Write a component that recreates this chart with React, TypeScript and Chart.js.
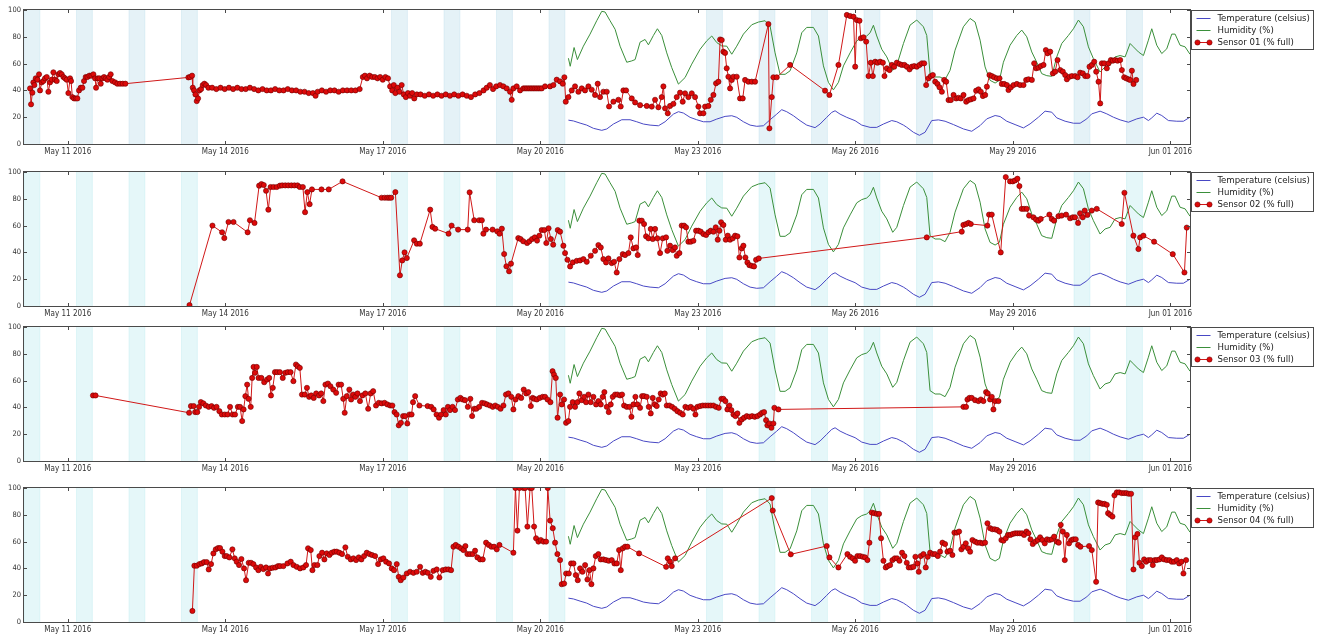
import React, { useEffect, useRef } from 'react';
import { Chart, registerables } from 'chart.js';

Chart.register(...registerables);

const FONT = "'DejaVu Sans Condensed', 'Liberation Sans', Arial, sans-serif";

// x axis: days since May 10 2016 00:00
const X_MIN = 4 / 24;
const X_MAX = 22.375;
const TICK_DAYS = [1, 4, 7, 10, 13, 16, 19, 22];
const TICK_LABELS = ['May 11 2016', 'May 14 2016', 'May 17 2016', 'May 20 2016', 'May 23 2016', 'May 26 2016', 'May 29 2016', 'Jun 01 2016'];
const Y_TICKS = [0, 20, 40, 60, 80, 100];

// working-hours bands (days with a band, start/end hour fraction)
const BAND_DAYS = [0, 1, 2, 3, 7, 8, 9, 10, 13, 14, 15, 16, 17, 20, 21];
const BAND_START = 4 / 24;
const BAND_END = 11.25 / 24;

const TEMP_LABEL = 'Temperature (celsius)';
const HUM_LABEL = 'Humidity (%)';
const SENSOR_LABELS = ['Sensor 01 (% full)', 'Sensor 02 (% full)', 'Sensor 03 (% full)', 'Sensor 04 (% full)'];

const TEMP: [number, number][] = [
  [10.536, 17.8], [10.631, 17.2], [10.758, 15.6], [10.885, 14.1], [11.012, 11.7], [11.171, 10.2], [11.266, 11.2], [11.393, 14.9],
  [11.552, 18.1], [11.71, 18.1], [11.837, 16.6], [11.964, 14.9], [12.091, 14.1], [12.25, 13.6], [12.377, 16.6], [12.536, 22.3],
  [12.631, 24.1], [12.726, 23.1], [12.853, 19.9], [12.98, 18.1], [13.107, 16.6], [13.234, 16.6], [13.361, 18.6], [13.52, 20.6],
  [13.647, 21.1], [13.742, 19.9], [13.869, 16.6], [13.996, 14.1], [14.123, 13.2], [14.25, 13.6], [14.377, 18.1], [14.504, 22.3],
  [14.599, 25.6], [14.694, 24.1], [14.821, 21.1], [14.948, 17.4], [15.075, 14.1], [15.234, 12.2], [15.329, 14.9], [15.456, 19.9],
  [15.552, 23.6], [15.615, 24.8], [15.71, 22.3], [15.837, 19.9], [15.996, 17.4], [16.123, 14.1], [16.282, 12.4], [16.409, 12.4],
  [16.536, 14.9], [16.694, 17.5], [16.79, 16.6], [16.917, 14.1], [16.98, 12.5], [17.107, 8.75], [17.221, 6.5], [17.329, 8.75],
  [17.456, 17.5], [17.583, 18], [17.71, 17], [17.869, 14.5], [18.059, 11.25], [18.218, 9.5], [18.377, 13.75], [18.504, 18.75],
  [18.663, 21.25], [18.758, 20.5], [18.885, 17], [19.043, 14.5], [19.202, 12], [19.329, 15], [19.488, 20], [19.615, 24.5],
  [19.742, 23.75], [19.837, 19.5], [19.996, 17], [20.155, 15.5], [20.282, 15.5], [20.409, 18.75], [20.504, 22.5], [20.663, 24.5],
  [20.79, 22.5], [20.916, 20], [21.044, 18], [21.202, 16.25], [21.361, 18.75], [21.488, 20], [21.583, 17.5], [21.647, 19.5],
  [21.742, 23], [21.837, 21.25], [21.964, 17.5], [22.123, 17], [22.25, 17], [22.375, 20],
];

const HUM: [number, number][] = [
  [10.536, 64], [10.57, 58], [10.644, 72], [10.707, 63], [10.821, 73], [10.948, 82], [11.075, 92], [11.171, 99], [11.234, 98.5],
  [11.329, 92], [11.425, 85.6], [11.52, 73], [11.647, 61], [11.742, 62], [11.806, 63], [11.901, 76], [11.996, 78], [12.06, 74],
  [12.155, 81], [12.231, 86], [12.314, 81], [12.409, 68], [12.504, 57], [12.631, 44.7], [12.758, 49.6], [12.885, 59.6],
  [13.044, 70.7], [13.171, 77], [13.266, 80.6], [13.361, 75.7], [13.456, 73.2], [13.552, 73], [13.647, 67], [13.742, 73],
  [13.869, 82], [14.028, 89], [14.155, 91], [14.282, 92], [14.377, 88], [14.472, 68], [14.567, 52], [14.663, 52], [14.758, 54.6],
  [14.885, 68], [14.98, 83], [15.075, 87], [15.202, 87], [15.298, 80.6], [15.393, 58.3], [15.488, 46], [15.583, 40.4],
  [15.679, 46], [15.774, 58.3], [15.901, 68], [16.028, 77], [16.123, 79.4], [16.218, 80.6], [16.282, 83], [16.345, 88.6],
  [16.409, 80.6], [16.504, 70.7], [16.6, 65], [16.713, 55], [16.79, 58.7], [16.917, 75], [17.043, 88.7], [17.17, 92.5],
  [17.297, 87.5], [17.361, 81], [17.424, 52.5], [17.52, 50], [17.615, 50], [17.71, 48], [17.805, 55], [17.9, 70], [18.059, 87.5],
  [18.186, 93.7], [18.282, 91], [18.377, 77.5], [18.472, 57.5], [18.567, 47.5], [18.663, 45.5], [18.745, 47.5], [18.821, 61],
  [18.948, 73.7], [19.075, 81], [19.17, 85], [19.266, 80], [19.361, 68.7], [19.456, 61], [19.551, 52.5], [19.647, 51],
  [19.742, 50.5], [19.837, 65], [19.932, 75], [20.059, 81], [20.155, 86], [20.25, 92.5], [20.345, 87.5], [20.44, 72.5],
  [20.535, 63.7], [20.662, 53.7], [20.758, 57.5], [20.853, 58.7], [20.948, 65], [21.044, 66], [21.139, 65], [21.234, 75],
  [21.297, 72.5], [21.393, 68.7], [21.488, 66], [21.583, 77.5], [21.647, 86], [21.742, 73.7], [21.837, 67.5], [21.932, 71],
  [22.028, 82], [22.091, 82], [22.186, 73.7], [22.282, 72.5], [22.375, 67],
];

const S1: [number, number][] = [
  [0.282, 41.5], [0.301, 29.6], [0.326, 38.3], [0.345, 46], [0.364, 44], [0.39, 49], [0.422, 48], [0.453, 52], [0.472, 40],
  [0.504, 46], [0.536, 47], [0.567, 49], [0.6, 50], [0.631, 39], [0.663, 46], [0.695, 48], [0.726, 53.5], [0.758, 48], [0.79, 47],
  [0.822, 52], [0.853, 53], [0.885, 52], [0.917, 50], [0.949, 49], [0.98, 48], [1.012, 38], [1.044, 49], [1.063, 47], [1.088, 35],
  [1.12, 34], [1.152, 34], [1.183, 34], [1.215, 40], [1.247, 42], [1.279, 42], [1.31, 47], [1.342, 50], [1.374, 50], [1.412, 51],
  [1.45, 51], [1.488, 52], [1.52, 49], [1.539, 42], [1.571, 49], [1.603, 49], [1.628, 45], [1.66, 49], [1.691, 50], [1.723, 49],
  [1.755, 48], [1.787, 50], [1.818, 52], [1.85, 47], [1.9, 46], [1.945, 45], [1.996, 45], [2.047, 45], [2.098, 45],
  [3.298, 49.7], [3.33, 50], [3.368, 51], [3.381, 42], [3.406, 40], [3.432, 37], [3.457, 32], [3.482, 34], [3.508, 40], [3.54, 41],
  [3.571, 44], [3.603, 45], [3.635, 44], [3.679, 42], [3.75, 42], [3.83, 41], [3.91, 42], [3.99, 41], [4.07, 42], [4.15, 41],
  [4.23, 42], [4.31, 41], [4.39, 41], [4.47, 42], [4.55, 41], [4.63, 40], [4.71, 41], [4.79, 40], [4.87, 40], [4.95, 41],
  [5.03, 40], [5.11, 40], [5.19, 41], [5.27, 40], [5.35, 40], [5.43, 39], [5.51, 39], [5.59, 38], [5.67, 38], [5.72, 36],
  [5.76, 39], [5.84, 40], [5.92, 39], [6.0, 40], [6.08, 40], [6.16, 39], [6.24, 40], [6.32, 40], [6.4, 40], [6.48, 40], [6.56, 41],
  [6.62, 50], [6.66, 51], [6.7, 49], [6.75, 51], [6.8, 50], [6.85, 50], [6.9, 49], [6.95, 50], [7.0, 48], [7.05, 50], [7.1, 49],
  [7.14, 43], [7.18, 40], [7.21, 44], [7.24, 38], [7.28, 42], [7.32, 39], [7.36, 44], [7.4, 37], [7.44, 35], [7.48, 38],
  [7.52, 36], [7.56, 38], [7.6, 34], [7.65, 37], [7.72, 37], [7.8, 36], [7.88, 37], [7.96, 36], [8.04, 37], [8.12, 36],
  [8.2, 37], [8.28, 36], [8.36, 37], [8.44, 36], [8.52, 37], [8.6, 36], [8.68, 35], [8.76, 37], [8.84, 38], [8.92, 40],
  [8.98, 42], [9.04, 44], [9.1, 41], [9.16, 43], [9.234, 44], [9.297, 43], [9.361, 41.5], [9.424, 39], [9.456, 33], [9.488, 41.5],
  [9.551, 43], [9.615, 40], [9.678, 41.5], [9.71, 41.5], [9.742, 41.5], [9.774, 41.5], [9.806, 41.5], [9.837, 41.5], [9.869, 41.5],
  [9.9, 41.5], [9.932, 41.5], [9.964, 41.5], [9.996, 41.5], [10.028, 41.5], [10.091, 43], [10.186, 43], [10.25, 44], [10.313, 48],
  [10.377, 46.7], [10.428, 45], [10.459, 49.8], [10.485, 31.6], [10.536, 35], [10.599, 40], [10.662, 43], [10.726, 39],
  [10.79, 41.5], [10.853, 40], [10.917, 43], [10.98, 40.5], [11.043, 36.6], [11.094, 45], [11.139, 35], [11.202, 39],
  [11.266, 39], [11.31, 28], [11.393, 31.6], [11.488, 33], [11.532, 28], [11.583, 40], [11.634, 40], [11.742, 34], [11.806, 31],
  [11.901, 29], [12.028, 28.4], [12.123, 27.9], [12.186, 33], [12.25, 27.4], [12.313, 35], [12.345, 43], [12.377, 26.6],
  [12.428, 22.9], [12.472, 28.4], [12.536, 30], [12.599, 35], [12.662, 38.3], [12.713, 31.6], [12.758, 37.8], [12.821, 35],
  [12.885, 37.8], [12.948, 35], [13.012, 27.9], [13.043, 22.9], [13.107, 22.9], [13.139, 27.9], [13.202, 28.4], [13.247, 33],
  [13.298, 36.6], [13.348, 45.3], [13.393, 46.5], [13.425, 78], [13.456, 77.6], [13.488, 68.9], [13.52, 68], [13.551, 56.5],
  [13.583, 50.2], [13.615, 41.5], [13.647, 47.8], [13.678, 50.2], [13.742, 50.2], [13.805, 34], [13.856, 34], [13.901, 47.8],
  [13.964, 46.5], [14.028, 46.5], [14.091, 46.5], [14.345, 89.5], [14.364, 11.7], [14.409, 35], [14.44, 49.8], [14.504, 49.8],
  [14.758, 59], [15.424, 39.8], [15.507, 36.6], [15.679, 59], [15.839, 96.3], [15.902, 95.5], [15.966, 95], [15.998, 57.7],
  [16.029, 92.5], [16.08, 92], [16.106, 78.9], [16.156, 79.6], [16.207, 76.4], [16.252, 50.7], [16.296, 60.7], [16.334, 50.7],
  [16.379, 61.4], [16.423, 60.7], [16.474, 61.4], [16.525, 60.7], [16.556, 50.7], [16.601, 56.5], [16.652, 55.2], [16.696, 59],
  [16.741, 57.7], [16.791, 60.7], [16.842, 59.7], [16.887, 59], [16.937, 59], [16.982, 57.7], [17.033, 55.7], [17.077, 57.7],
  [17.122, 58.2], [17.172, 57.7], [17.223, 59], [17.268, 60.2], [17.312, 60.2], [17.35, 44], [17.395, 49], [17.439, 50.7],
  [17.477, 51.5], [17.522, 46.5], [17.566, 44.8], [17.604, 42.3], [17.649, 39], [17.693, 47.8], [17.731, 46.5], [17.776, 32.8],
  [17.82, 32.8], [17.871, 36.6], [17.922, 34], [17.966, 34.5], [18.01, 34], [18.061, 36.6], [18.112, 31.6], [18.156, 32.8],
  [18.201, 33.3], [18.252, 34], [18.302, 39.8], [18.347, 40.8], [18.391, 39], [18.43, 35.8], [18.474, 36.6], [18.506, 42.8],
  [18.556, 51.5], [18.601, 50.7], [18.645, 49.8], [18.696, 49], [18.747, 49], [18.791, 44.8], [18.836, 44.8], [18.887, 44],
  [18.918, 40.3], [18.963, 42.3], [19.014, 44], [19.077, 44.8], [19.141, 44], [19.204, 44], [19.255, 47.8], [19.299, 48.3],
  [19.363, 47.8], [19.407, 60.2], [19.445, 56.5], [19.49, 57], [19.534, 58.2], [19.585, 59], [19.63, 70.1], [19.661, 67.7],
  [19.712, 68.9], [19.763, 52.7], [19.807, 54], [19.852, 62.7], [19.903, 55.2], [19.953, 54], [19.998, 51.5], [20.03, 48.3],
  [20.08, 50.2], [20.125, 50.7], [20.188, 50.7], [20.233, 49.8], [20.283, 53.2], [20.334, 52.7], [20.379, 50.7], [20.423, 50.7],
  [20.461, 57.7], [20.506, 59], [20.55, 61.4], [20.588, 54], [20.633, 46.5], [20.665, 30.3], [20.696, 60.2], [20.741, 60.2],
  [20.791, 56.5], [20.823, 60.2], [20.868, 62.7], [20.906, 62.2], [20.95, 62.7], [20.995, 62.2], [21.045, 62.7], [21.077, 55.2],
  [21.121, 49.8], [21.16, 49], [21.204, 48.3], [21.236, 47.8], [21.268, 54.7], [21.299, 44.8], [21.35, 47.8],
];

const S2: [number, number][] = [
  [3.319, 0.7], [3.756, 60], [3.94, 55], [3.982, 50.7], [4.062, 62.7], [4.157, 62.7], [4.426, 55], [4.47, 64], [4.557, 62],
  [4.645, 89.8], [4.689, 91], [4.733, 90.3], [4.777, 86], [4.821, 71.9], [4.864, 88.8], [4.92, 88.8], [4.98, 88.8], [5.04, 89.8],
  [5.084, 90], [5.142, 90], [5.2, 90], [5.259, 90], [5.317, 90], [5.376, 90], [5.42, 88.8], [5.478, 88.8], [5.52, 70], [5.563, 85],
  [5.607, 76], [5.651, 87], [5.833, 87], [5.971, 87], [6.234, 93], [6.977, 80.8], [7.036, 80.8], [7.087, 80.8], [7.124, 80.8],
  [7.16, 80.8], [7.24, 85], [7.327, 22.9], [7.371, 34], [7.415, 40], [7.458, 35.8], [7.597, 49], [7.648, 46.5], [7.706, 46.5],
  [7.903, 71.9], [7.947, 59], [7.998, 57.7], [8.253, 54], [8.311, 60], [8.435, 57], [8.618, 57], [8.654, 84.8], [8.742, 64],
  [8.836, 64], [8.887, 64], [8.916, 54], [8.967, 57], [9.091, 57], [9.18, 55.7], [9.224, 54], [9.268, 57.7], [9.312, 38.8],
  [9.355, 29.6], [9.406, 25.9], [9.442, 31.6], [9.581, 50.7], [9.625, 50], [9.676, 48.3], [9.749, 47], [9.793, 48.3], [9.844, 50],
  [9.895, 51.2], [9.939, 48.8], [9.983, 52.5], [10.027, 56.7], [10.078, 56.7], [10.115, 47], [10.158, 58], [10.202, 50],
  [10.246, 45.8], [10.333, 56.7], [10.377, 55.5], [10.44, 45], [10.472, 39.5], [10.517, 34.5], [10.568, 29.5], [10.618, 32.5],
  [10.694, 33.7], [10.758, 34], [10.821, 35], [10.885, 33], [10.961, 37.5], [11.044, 41.2], [11.107, 45.5], [11.152, 43.7],
  [11.202, 35], [11.253, 32.5], [11.298, 35.5], [11.361, 32], [11.406, 33], [11.456, 25], [11.507, 35], [11.571, 38.7],
  [11.615, 38], [11.679, 39.5], [11.723, 51.2], [11.774, 43], [11.825, 43.7], [11.856, 38], [11.888, 63.7], [11.933, 63.7],
  [11.977, 61.2], [12.015, 52], [12.06, 50.5], [12.104, 57.5], [12.142, 50], [12.187, 57.5], [12.231, 50.5], [12.282, 39.5],
  [12.333, 50.5], [12.396, 51.2], [12.421, 41.2], [12.472, 45], [12.523, 41.7], [12.567, 43.7], [12.599, 37.5], [12.65, 39.5],
  [12.694, 60], [12.739, 60], [12.777, 58.7], [12.821, 48], [12.866, 48], [12.917, 48.7], [12.967, 56.2], [13.012, 56.2],
  [13.056, 55.5], [13.107, 53.7], [13.158, 53], [13.202, 55], [13.247, 56.2], [13.298, 55.5], [13.342, 58.7], [13.38, 49.5],
  [13.412, 56.2], [13.444, 62.5], [13.488, 60.5], [13.533, 49.5], [13.571, 52.5], [13.615, 49.5], [13.666, 50.5], [13.71, 52.5],
  [13.755, 52], [13.793, 36.2], [13.837, 43], [13.869, 45], [13.907, 36.2], [13.945, 32.5], [13.983, 30.5], [14.028, 30],
  [14.072, 29.5], [14.11, 34.5], [14.161, 35.5], [17.361, 51.2], [18.028, 55.5], [18.059, 60.5], [18.11, 61.2], [18.155, 62],
  [18.199, 61.2], [18.516, 60], [18.548, 68.2], [18.599, 68.2], [18.77, 40], [18.866, 96.2], [18.948, 93], [18.999, 93],
  [19.043, 93.7], [19.088, 95], [19.126, 89.5], [19.17, 72.5], [19.215, 72.5], [19.266, 72.5], [19.31, 67.5], [19.393, 66.2],
  [19.443, 64.5], [19.488, 63.7], [19.532, 65], [19.697, 68.2], [19.742, 65], [19.786, 63.7], [19.869, 67], [19.932, 67.5],
  [20.015, 68.2], [20.091, 65.5], [20.142, 66.2], [20.186, 66.2], [20.243, 62], [20.281, 69.2], [20.332, 66.2], [20.37, 71.2],
  [20.421, 68], [20.504, 71.2], [20.599, 72.5], [21.075, 61.2], [21.126, 84.5], [21.297, 52.5], [21.393, 42.5], [21.425, 51.2],
  [21.488, 52.5], [21.691, 48], [22.047, 38.7], [22.269, 25], [22.313, 58.5],
];

const S3: [number, number][] = [
  [1.481, 48.9], [1.529, 48.9], [3.312, 36], [3.346, 41], [3.4, 41], [3.427, 36.5], [3.468, 36.5], [3.502, 40.4], [3.535, 44],
  [3.583, 43], [3.63, 41.4], [3.685, 40.4], [3.739, 41], [3.786, 39.7], [3.834, 40.4], [3.888, 37.2], [3.935, 34.7], [3.99, 34.7],
  [4.044, 34.7], [4.091, 40.4], [4.139, 34.7], [4.186, 34.7], [4.24, 40.4], [4.281, 40.4], [4.322, 29.8], [4.349, 38.5],
  [4.383, 48.4], [4.417, 57], [4.444, 46.4], [4.485, 40.4], [4.512, 62], [4.539, 70.2], [4.566, 65.8], [4.6, 70.2], [4.634, 62],
  [4.688, 62], [4.742, 58.8], [4.797, 60.8], [4.837, 62], [4.871, 48.9], [4.905, 54.6], [4.946, 66.3], [4.99, 66.3], [5.04, 66.3],
  [5.095, 62], [5.142, 65.8], [5.19, 66.3], [5.244, 66.3], [5.298, 59.6], [5.346, 72], [5.38, 70.7], [5.42, 69.5], [5.461, 49.6],
  [5.515, 49.6], [5.556, 54.6], [5.597, 47.9], [5.637, 48.9], [5.685, 47.1], [5.732, 50.4], [5.786, 48.9], [5.827, 50.4],
  [5.868, 44.7], [5.908, 57], [5.956, 57.8], [6.003, 55.8], [6.057, 53.3], [6.112, 50.9], [6.159, 57], [6.207, 57], [6.247, 46.4],
  [6.275, 36], [6.315, 48.4], [6.363, 53.3], [6.397, 45.9], [6.437, 49.6], [6.478, 47.9], [6.519, 50.4], [6.566, 44.7],
  [6.613, 48.9], [6.668, 50.4], [6.722, 39], [6.769, 50.4], [6.817, 52.1], [6.871, 41.4], [6.925, 43.4], [6.98, 43], [7.034, 43.4],
  [7.088, 42.2], [7.142, 41.4], [7.183, 41.4], [7.224, 36.5], [7.264, 34.7], [7.305, 26.6], [7.346, 28.5], [7.387, 33.5],
  [7.427, 33.5], [7.468, 28], [7.508, 34.7], [7.549, 34.7], [7.576, 43.9], [7.617, 48.4], [7.698, 41.4], [7.854, 41],
  [7.922, 40.4], [7.969, 38.5], [8.024, 34.7], [8.071, 32.3], [8.112, 34.7], [8.159, 38], [8.2, 34.7], [8.241, 40.4], [8.281, 38],
  [8.329, 40.4], [8.376, 38], [8.43, 45.9], [8.478, 47.1], [8.519, 45.9], [8.566, 45.4], [8.62, 40.4], [8.668, 46.4], [8.702, 33.5],
  [8.742, 39], [8.783, 39], [8.837, 40.4], [8.891, 43.4], [8.939, 43], [8.986, 42.2], [9.041, 41.4], [9.095, 40.4], [9.142, 41.4],
  [9.19, 40.4], [9.244, 39], [9.298, 41.4], [9.346, 49.6], [9.393, 50.4], [9.447, 47.9], [9.488, 38.5], [9.529, 45.9],
  [9.583, 48.4], [9.637, 47.1], [9.685, 53.3], [9.732, 50.4], [9.773, 51.4], [9.82, 41], [9.854, 47.1], [9.888, 46.4],
  [9.935, 45.9], [9.989, 47.1], [10.044, 47.9], [10.091, 47.9], [10.138, 45.9], [10.193, 43.9], [10.234, 67], [10.261, 64.5],
  [10.295, 62], [10.329, 32.3], [10.377, 49.6], [10.409, 42.2], [10.453, 45.9], [10.491, 28.5], [10.536, 29.8], [10.567, 40.4],
  [10.618, 43.9], [10.663, 40.4], [10.707, 43.9], [10.745, 50.4], [10.79, 45.4], [10.834, 47.9], [10.872, 43.9], [10.917, 49.6],
  [10.961, 43.9], [11.012, 47.9], [11.063, 42.2], [11.107, 44.7], [11.152, 42.2], [11.19, 47.9], [11.221, 51.4], [11.266, 40.4],
  [11.304, 36.5], [11.342, 42.2], [11.38, 47.9], [11.425, 49.6], [11.469, 49.6], [11.52, 48.9], [11.558, 49.6], [11.596, 41.4],
  [11.647, 40.4], [11.698, 40.4], [11.736, 33], [11.774, 42.2], [11.812, 47.9], [11.85, 42.2], [11.901, 39.7], [11.939, 48.4],
  [11.977, 48.4], [12.028, 47.9], [12.066, 40.4], [12.104, 35.5], [12.142, 47.1], [12.18, 42.2], [12.218, 41], [12.256, 45.9],
  [12.294, 50.4], [12.333, 49.6], [12.371, 50.4], [12.409, 41.4], [12.46, 41.4], [12.51, 40.4], [12.561, 39], [12.612, 37.2],
  [12.663, 36], [12.714, 34.7], [12.764, 40.4], [12.815, 39.7], [12.866, 40.4], [12.917, 39], [12.955, 34.7], [12.993, 40.4],
  [13.044, 41], [13.095, 41.4], [13.145, 41.4], [13.196, 41.4], [13.247, 41.4], [13.298, 41.4], [13.348, 40.4], [13.399, 39.7],
  [13.45, 46.4], [13.488, 46.4], [13.526, 44.7], [13.564, 38.5], [13.602, 41.4], [13.64, 38], [13.679, 34.7], [13.717, 33.5],
  [13.755, 35.5], [13.793, 28.5], [13.837, 31], [13.882, 32.3], [13.933, 33.5], [13.983, 33], [14.034, 33.5], [14.085, 33],
  [14.136, 33.5], [14.186, 34.7], [14.225, 36], [14.263, 36.5], [14.301, 30.5], [14.326, 26.6], [14.364, 28], [14.402, 24.8],
  [14.44, 28], [14.459, 39.7], [14.536, 38.5], [18.06, 40.4], [18.11, 40.4], [18.136, 45.9], [18.174, 47.1], [18.218, 47.1],
  [18.282, 45.4], [18.345, 44.7], [18.39, 45.9], [18.44, 44.7], [18.491, 51.4], [18.523, 50.4], [18.567, 45.9], [18.599, 47.9],
  [18.631, 38.5], [18.663, 44.7], [18.726, 44.7],
];

const S4: [number, number][] = [
  [3.374, 8.25], [3.412, 42], [3.457, 42], [3.507, 43.2], [3.552, 43.7], [3.596, 44.7], [3.647, 44.7], [3.685, 39.2], [3.73, 43.2],
  [3.774, 51.2], [3.819, 54.2], [3.863, 55.2], [3.901, 55.2], [3.946, 52.5], [3.99, 49.2], [4.028, 49.2], [4.079, 48.2],
  [4.136, 54.2], [4.18, 47.5], [4.218, 45], [4.263, 42.5], [4.307, 47], [4.358, 40], [4.396, 31.2], [4.447, 44.2], [4.491, 44.2],
  [4.536, 43.2], [4.587, 40.7], [4.631, 38.7], [4.676, 41.2], [4.726, 39.5], [4.777, 40.7], [4.815, 36.2], [4.853, 40],
  [4.904, 40.5], [4.955, 40.7], [5.005, 41.7], [5.044, 41.7], [5.107, 41.7], [5.184, 43.7], [5.247, 45], [5.298, 42.5],
  [5.361, 41.2], [5.425, 40], [5.488, 40.7], [5.539, 42.5], [5.577, 55], [5.628, 53.7], [5.66, 38.7], [5.698, 42.5], [5.755, 42.5],
  [5.793, 49.2], [5.844, 51.7], [5.888, 46.7], [5.933, 51.2], [5.984, 50], [6.028, 51.7], [6.079, 52.5], [6.123, 52.5],
  [6.174, 51.7], [6.225, 50.7], [6.288, 55.7], [6.333, 48.7], [6.39, 46.7], [6.441, 47.5], [6.492, 46.2], [6.542, 48.2],
  [6.593, 46.7], [6.644, 49.2], [6.695, 51.7], [6.746, 50.7], [6.796, 50], [6.854, 49.2], [6.911, 43.2], [6.962, 46.7],
  [7.012, 47.5], [7.063, 45], [7.12, 43.7], [7.171, 40], [7.215, 38.7], [7.266, 43.2], [7.304, 33.7], [7.342, 31.2], [7.393, 33.2],
  [7.457, 36.2], [7.52, 37.5], [7.584, 36.7], [7.647, 37.5], [7.711, 41.2], [7.761, 36.7], [7.812, 37.5], [7.857, 36.7],
  [7.914, 33.7], [7.965, 38.2], [8.028, 39.2], [8.079, 33.2], [8.142, 38.7], [8.2, 39.2], [8.25, 39.2], [8.301, 38.7],
  [8.346, 56.2], [8.39, 57.5], [8.441, 56.2], [8.492, 55], [8.536, 53.7], [8.574, 56.7], [8.612, 50.7], [8.663, 50.7],
  [8.714, 50.7], [8.758, 53.2], [8.803, 48.2], [8.854, 46.7], [8.904, 46.7], [8.968, 59.2], [9.019, 57.5], [9.069, 56.2],
  [9.12, 56.2], [9.171, 54.2], [9.222, 57.5], [9.488, 51.7], [9.527, 100], [9.565, 68.2], [9.603, 100], [9.679, 100], [9.711, 100],
  [9.755, 71.2], [9.806, 100], [9.838, 100], [9.882, 71.2], [9.92, 62.5], [9.965, 60], [10.009, 61.2], [10.06, 60], [10.111, 60],
  [10.143, 100], [10.187, 75.7], [10.238, 70], [10.282, 59.2], [10.326, 50.7], [10.377, 46.2], [10.409, 28.2], [10.454, 28.7],
  [10.492, 36.2], [10.543, 36.2], [10.587, 43.7], [10.632, 43.7], [10.676, 35], [10.714, 31.2], [10.758, 40], [10.803, 37.5],
  [10.854, 42.5], [10.898, 31.7], [10.936, 38.7], [10.974, 28.2], [11.012, 40], [11.057, 49.2], [11.107, 50.7], [11.152, 46.7],
  [11.203, 46.7], [11.253, 46.2], [11.304, 45.7], [11.361, 46.2], [11.412, 43.7], [11.457, 43.7], [11.501, 53.7], [11.533, 38.7],
  [11.571, 55], [11.616, 56.2], [11.66, 56.2], [11.882, 51.2], [12.397, 41.2], [12.428, 47.5], [12.473, 45], [12.504, 41.7],
  [12.568, 47.5], [14.409, 92.5], [14.428, 83.2], [14.771, 50.5], [15.456, 56.7], [15.507, 48.2], [15.679, 40.7], [15.85, 50.7],
  [15.901, 48.7], [15.952, 47.5], [15.996, 45.7], [16.04, 49.2], [16.091, 49.2], [16.142, 48.7], [16.187, 48.2], [16.231, 46.2],
  [16.269, 59.2], [16.314, 81.7], [16.358, 81.2], [16.409, 80.7], [16.453, 80.7], [16.491, 62.5], [16.536, 45.7], [16.58, 40.7],
  [16.618, 41.7], [16.663, 42.5], [16.707, 46.2], [16.752, 47.5], [16.796, 47.5], [16.841, 45.7], [16.891, 51.7], [16.936, 49.2],
  [16.98, 44.2], [17.018, 40.7], [17.063, 40.7], [17.107, 41.2], [17.145, 48.7], [17.183, 43.7], [17.209, 37.5], [17.247, 49.2],
  [17.298, 50.7], [17.342, 40.7], [17.38, 48.7], [17.425, 51.7], [17.476, 50.7], [17.52, 50.7], [17.571, 49.2], [17.615, 52.5],
  [17.66, 59.2], [17.71, 58.2], [17.755, 52.5], [17.805, 53.2], [17.85, 50], [17.888, 66.7], [17.933, 66.7], [17.977, 67.5],
  [18.021, 54.2], [18.06, 56.2], [18.104, 58.7], [18.148, 55], [18.187, 52.5], [18.231, 61.2], [18.282, 60], [18.326, 59.2],
  [18.377, 59.2], [18.421, 58.7], [18.472, 59.2], [18.517, 73.7], [18.567, 70], [18.612, 69.2], [18.656, 69.2], [18.701, 68.7],
  [18.745, 67.5], [18.783, 61.2], [18.821, 60.7], [18.866, 62.5], [18.911, 65], [18.955, 65], [19.0, 65.7], [19.044, 66.2],
  [19.088, 66.2], [19.133, 66.2], [19.177, 66.2], [19.215, 65], [19.26, 67.5], [19.298, 66.2], [19.336, 61.7], [19.38, 58.2],
  [19.431, 60], [19.475, 61.2], [19.52, 63.2], [19.564, 61.2], [19.609, 58.7], [19.653, 61.7], [19.698, 61.2], [19.742, 61.7],
  [19.787, 63.7], [19.837, 60], [19.875, 59.2], [19.913, 72.5], [19.952, 67.5], [19.99, 46.2], [20.028, 65], [20.072, 58.7],
  [20.117, 61.2], [20.155, 61.7], [20.199, 61.7], [20.244, 57.5], [20.288, 56.2], [20.453, 56.7], [20.504, 53.7], [20.587, 30],
  [20.625, 89.2], [20.663, 88.7], [20.707, 88.2], [20.745, 88.2], [20.79, 87.5], [20.815, 81.2], [20.853, 80], [20.898, 78.7],
  [20.936, 94.5], [20.98, 96.7], [21.025, 96.7], [21.075, 96.2], [21.12, 96.2], [21.164, 96.2], [21.209, 95.7], [21.253, 95.7],
  [21.298, 39.2], [21.33, 63.2], [21.374, 65.7], [21.412, 44.2], [21.457, 41.7], [21.501, 46.7], [21.539, 45], [21.583, 46.2],
  [21.628, 46.2], [21.666, 42.5], [21.704, 46.2], [21.742, 46.2], [21.793, 46.7], [21.838, 48.2], [21.882, 46.7], [21.933, 46.2],
  [21.983, 46.2], [22.028, 45], [22.072, 45], [22.123, 46.2], [22.168, 43.7], [22.212, 45], [22.25, 36.2], [22.301, 46.2],
];

const SENSORS = [S1, S2, S3, S4];
const PANEL_TOPS = [10, 172, 327, 488];
const BAND_COLORS = ['rgba(173,216,230,0.32)', 'rgba(175,230,235,0.32)', 'rgba(175,230,235,0.32)', 'rgba(175,230,235,0.32)'];

const CANVAS_W = 1317;
const CANVAS_H = 158;
const PLOT_TOP = 10;
const PLOT_H = 134;
const PLOT_LEFT = 24;
const PLOT_RIGHT = 1190;

const bandPlugin = {
  id: 'bands',
  beforeDatasetsDraw(chart: any, _a: any, opts: any) {
    const { ctx, chartArea } = chart;
    const x = chart.scales.x;
    ctx.save();
    ctx.beginPath();
    ctx.rect(chartArea.left, chartArea.top, chartArea.right - chartArea.left, chartArea.bottom - chartArea.top);
    ctx.clip();
    BAND_DAYS.forEach((d) => {
      const a = x.getPixelForValue(d + BAND_START);
      const b = x.getPixelForValue(d + BAND_END);
      ctx.fillStyle = opts.color;
      ctx.fillRect(a, chartArea.top, b - a, chartArea.bottom - chartArea.top);
      ctx.strokeStyle = opts.color;
      ctx.lineWidth = 1;
      ctx.beginPath();
      ctx.moveTo(a, chartArea.top);
      ctx.lineTo(a, chartArea.bottom);
      ctx.moveTo(b, chartArea.top);
      ctx.lineTo(b, chartArea.bottom);
      ctx.stroke();
    });
    ctx.restore();
  },
};

const framePlugin = {
  id: 'frame',
  afterDatasetsDraw(chart: any) {
    const { ctx, chartArea } = chart;
    const { left, right, top, bottom } = chartArea;
    const x = chart.scales.x;
    const y = chart.scales.y;
    ctx.save();
    ctx.strokeStyle = '#4a4a4a';
    ctx.lineWidth = 1;
    ctx.strokeRect(left - 0.5, top - 0.5, right - left + 1, bottom - top + 1);
    ctx.beginPath();
    TICK_DAYS.forEach((d) => {
      const px = Math.round(x.getPixelForValue(d)) + 0.5;
      ctx.moveTo(px, bottom);
      ctx.lineTo(px, bottom - 3);
      ctx.moveTo(px, top);
      ctx.lineTo(px, top + 3);
    });
    Y_TICKS.forEach((v) => {
      const py = Math.round(y.getPixelForValue(v)) + 0.5;
      ctx.moveTo(left, py);
      ctx.lineTo(left + 3, py);
      ctx.moveTo(right, py);
      ctx.lineTo(right - 3, py);
    });
    ctx.stroke();
    ctx.restore();
  },
};

const legendPlugin = {
  id: 'boxLegend',
  afterDraw(chart: any) {
    const { ctx, chartArea } = chart;
    const ds = chart.data.datasets.slice().reverse();
    const x0 = chartArea.right + 1.5;
    const y0 = chartArea.top + 0.5;
    const w = 122;
    const h = 39;
    ctx.save();
    ctx.fillStyle = '#ffffff';
    ctx.fillRect(x0, y0, w, h);
    ctx.strokeStyle = '#4a4a4a';
    ctx.lineWidth = 1;
    ctx.strokeRect(x0, y0, w, h);
    ds.forEach((d: any, i: number) => {
      const yy = Math.round(y0 + 7 + i * 12.2) + 0.5;
      ctx.strokeStyle = d.borderColor;
      ctx.lineWidth = 1;
      ctx.beginPath();
      ctx.moveTo(x0 + 5, yy);
      ctx.lineTo(x0 + 19, yy);
      ctx.stroke();
      if (d.pointRadius > 0) {
        [x0 + 6, x0 + 18].forEach((cx) => {
          ctx.beginPath();
          ctx.arc(cx, yy, d.pointRadius, 0, Math.PI * 2);
          ctx.fillStyle = d.pointBackgroundColor;
          ctx.fill();
          ctx.lineWidth = d.pointBorderWidth;
          ctx.strokeStyle = d.pointBorderColor;
          ctx.stroke();
        });
      }
      ctx.fillStyle = '#222222';
      ctx.font = `9.5px ${FONT}`;
      ctx.textBaseline = 'middle';
      ctx.textAlign = 'left';
      ctx.fillText(d.label, x0 + 26, yy);
    });
    ctx.restore();
  },
};

function toXY(arr: [number, number][]) {
  return arr.map(([x, y]) => ({ x, y }));
}

function Panel({ index }: { index: number }) {
  const ref = useRef<HTMLCanvasElement | null>(null);
  useEffect(() => {
    if (!ref.current) return;
    const chart = new Chart(ref.current, {
      type: 'line',
      data: {
        datasets: [
          {
            label: SENSOR_LABELS[index],
            data: toXY(SENSORS[index]),
            borderColor: '#d01818',
            borderWidth: 1,
            pointRadius: 2.6,
            pointBackgroundColor: '#dd0a0a',
            pointBorderColor: '#700000',
            pointBorderWidth: 0.6,
            tension: 0,
            clip: 0,
            order: 0,
          } as any,
          {
            label: HUM_LABEL,
            data: toXY(HUM),
            borderColor: '#3a8f3a',
            borderWidth: 1,
            pointRadius: 0,
            tension: 0,
            clip: 0,
            order: 1,
          },
          {
            label: TEMP_LABEL,
            data: toXY(TEMP),
            borderColor: '#4848c4',
            borderWidth: 1,
            pointRadius: 0,
            tension: 0,
            clip: 0,
            order: 2,
          },
        ],
      },
      options: {
        animation: false,
        responsive: false,
        events: [],
        layout: { padding: { top: PLOT_TOP, left: 0, right: CANVAS_W - PLOT_RIGHT, bottom: 0 } },
        plugins: {
          legend: { display: false },
          tooltip: { enabled: false },
          bands: { color: BAND_COLORS[index] },
        } as any,
        scales: {
          x: {
            type: 'linear',
            min: X_MIN,
            max: X_MAX,
            grid: { display: false, drawTicks: false },
            border: { display: false },
            afterBuildTicks: (s: any) => {
              s.ticks = TICK_DAYS.map((v) => ({ value: v }));
            },
            afterFit: (s: any) => {
              s.height = CANVAS_H - PLOT_TOP - PLOT_H;
            },
            ticks: {
              autoSkip: false,
              maxRotation: 0,
              padding: 3,
              color: '#333333',
              font: { family: FONT, size: 8 },
              callback: (v: any) => {
                const i = TICK_DAYS.indexOf(Number(v));
                return i >= 0 ? TICK_LABELS[i] : '';
              },
            },
          },
          y: {
            min: 0,
            max: 100,
            grid: { display: false, drawTicks: false },
            border: { display: false },
            afterBuildTicks: (s: any) => {
              s.ticks = Y_TICKS.map((v) => ({ value: v }));
            },
            afterFit: (s: any) => {
              s.width = PLOT_LEFT;
            },
            ticks: {
              padding: 3,
              color: '#333333',
              font: { family: FONT, size: 7.5 },
            },
          },
        },
      } as any,
      plugins: [bandPlugin, framePlugin, legendPlugin],
    });
    return () => chart.destroy();
  }, [index]);
  return (
    <canvas
      ref={ref}
      width={CANVAS_W}
      height={CANVAS_H}
      style={{ position: 'absolute', left: 0, top: PANEL_TOPS[index] - PLOT_TOP, width: CANVAS_W, height: CANVAS_H }}
    />
  );
}

export default function App() {
  return (
    <div style={{ position: 'absolute', left: 0, top: 0, width: CANVAS_W, height: 634, background: '#ffffff', overflow: 'hidden' }}>
      {[0, 1, 2, 3].map((i) => (
        <Panel key={i} index={i} />
      ))}
    </div>
  );
}
